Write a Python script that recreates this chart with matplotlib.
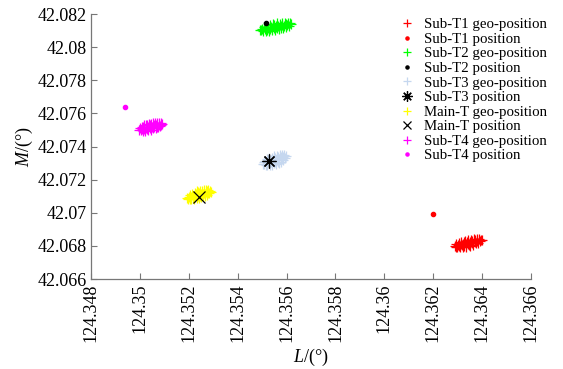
import matplotlib.pyplot as plt

# geo-position samples and reference positions (longitude L, latitude M, degrees)
sub_t1_lon = [124.36287, 124.36292, 124.36294, 124.36298, 124.36300, 124.36304, 124.36306, 124.36310,
              124.36312, 124.36315, 124.36318, 124.36320, 124.36324, 124.36327, 124.36330, 124.36332,
              124.36336, 124.36338, 124.36341, 124.36344, 124.36346, 124.36349, 124.36352, 124.36354,
              124.36357, 124.36360, 124.36363, 124.36366, 124.36369, 124.36372, 124.36375, 124.36378,
              124.36381, 124.36384, 124.36387, 124.36390, 124.36394, 124.36398, 124.36322, 124.36342]
sub_t1_lat = [42.06802, 42.06796, 42.06811, 42.06792, 42.06807, 42.06818, 42.06798, 42.06791,
              42.06814, 42.06825, 42.06806, 42.06792, 42.06822, 42.06800, 42.06831, 42.06814,
              42.06796, 42.06824, 42.06809, 42.06837, 42.06804, 42.06823, 42.06800, 42.06835,
              42.06816, 42.06828, 42.06807, 42.06842, 42.06823, 42.06836, 42.06815, 42.06842,
              42.06829, 42.06820, 42.06840, 42.06827, 42.06838, 42.06833, 42.06812, 42.06819]
sub_t1_pos = (124.36198, 42.06991)

sub_t2_lon = [124.35618, 124.35613, 124.35610, 124.35606, 124.35603, 124.35599, 124.35596, 124.35592,
              124.35590, 124.35586, 124.35583, 124.35580, 124.35576, 124.35572, 124.35569, 124.35567,
              124.35562, 124.35560, 124.35556, 124.35553, 124.35550, 124.35547, 124.35543, 124.35541,
              124.35538, 124.35534, 124.35531, 124.35527, 124.35524, 124.35520, 124.35517, 124.35514,
              124.35510, 124.35507, 124.35503, 124.35500, 124.35495, 124.35491, 124.35578, 124.35555]
sub_t2_lat = [42.08137, 42.08143, 42.08128, 42.08147, 42.08132, 42.08121, 42.08141, 42.08148,
              42.08125, 42.08114, 42.08133, 42.08147, 42.08117, 42.08139, 42.08108, 42.08125,
              42.08143, 42.08115, 42.08130, 42.08102, 42.08135, 42.08116, 42.08139, 42.08104,
              42.08123, 42.08111, 42.08132, 42.08097, 42.08116, 42.08103, 42.08124, 42.08097,
              42.08110, 42.08119, 42.08099, 42.08112, 42.08101, 42.08106, 42.08127, 42.08120]
sub_t2_pos = (124.35515, 42.08144)

sub_t3_lon = [124.35597, 124.35593, 124.35591, 124.35587, 124.35586, 124.35582, 124.35581, 124.35577,
              124.35576, 124.35573, 124.35570, 124.35569, 124.35565, 124.35563, 124.35560, 124.35559,
              124.35555, 124.35553, 124.35551, 124.35548, 124.35547, 124.35544, 124.35541, 124.35540,
              124.35537, 124.35535, 124.35532, 124.35530, 124.35527, 124.35524, 124.35522, 124.35519,
              124.35517, 124.35514, 124.35512, 124.35509, 124.35506, 124.35502, 124.35567, 124.35550]
sub_t3_lat = [42.07341, 42.07330, 42.07348, 42.07319, 42.07338, 42.07349, 42.07322, 42.07309,
              42.07338, 42.07349, 42.07322, 42.07302, 42.07339, 42.07308, 42.07345, 42.07322,
              42.07296, 42.07330, 42.07309, 42.07343, 42.07298, 42.07321, 42.07288, 42.07332,
              42.07305, 42.07318, 42.07288, 42.07332, 42.07305, 42.07319, 42.07289, 42.07322,
              42.07304, 42.07289, 42.07313, 42.07293, 42.07305, 42.07295, 42.07327, 42.07321]
sub_t3_pos = (124.35530, 42.07312)

main_t_lon = [124.35289, 124.35285, 124.35283, 124.35279, 124.35278, 124.35274, 124.35273, 124.35269,
              124.35268, 124.35265, 124.35262, 124.35261, 124.35257, 124.35255, 124.35252, 124.35251,
              124.35247, 124.35245, 124.35243, 124.35240, 124.35239, 124.35236, 124.35233, 124.35232,
              124.35229, 124.35227, 124.35224, 124.35222, 124.35219, 124.35216, 124.35214, 124.35211,
              124.35209, 124.35206, 124.35204, 124.35201, 124.35198, 124.35194, 124.35259, 124.35242]
main_t_lat = [42.07127, 42.07134, 42.07117, 42.07139, 42.07122, 42.07109, 42.07132, 42.07140,
              42.07113, 42.07101, 42.07123, 42.07139, 42.07104, 42.07130, 42.07094, 42.07113,
              42.07134, 42.07102, 42.07119, 42.07087, 42.07125, 42.07103, 42.07130, 42.07089,
              42.07111, 42.07097, 42.07122, 42.07081, 42.07103, 42.07088, 42.07112, 42.07081,
              42.07096, 42.07107, 42.07084, 42.07098, 42.07086, 42.07092, 42.07116, 42.07108]
main_t_pos = (124.35243, 42.07097)

sub_t4_lon = [124.34997, 124.35001, 124.35003, 124.35007, 124.35008, 124.35012, 124.35013, 124.35017,
              124.35018, 124.35021, 124.35024, 124.35025, 124.35029, 124.35031, 124.35034, 124.35035,
              124.35039, 124.35041, 124.35043, 124.35046, 124.35047, 124.35050, 124.35053, 124.35054,
              124.35057, 124.35059, 124.35062, 124.35064, 124.35067, 124.35070, 124.35072, 124.35075,
              124.35077, 124.35080, 124.35082, 124.35085, 124.35088, 124.35092, 124.35027, 124.35044]
sub_t4_lat = [42.07502, 42.07511, 42.07497, 42.07519, 42.07505, 42.07496, 42.07517, 42.07527,
              42.07505, 42.07496, 42.07517, 42.07532, 42.07504, 42.07528, 42.07499, 42.07517,
              42.07537, 42.07511, 42.07527, 42.07501, 42.07535, 42.07518, 42.07543, 42.07509,
              42.07530, 42.07520, 42.07543, 42.07509, 42.07530, 42.07519, 42.07542, 42.07517,
              42.07531, 42.07542, 42.07524, 42.07539, 42.07530, 42.07538, 42.07513, 42.07518]
sub_t4_pos = (124.34938, 42.07639)

x_ticks = [124.348, 124.35, 124.352, 124.354, 124.356, 124.358, 124.36, 124.362, 124.364, 124.366]
x_tick_labels = ['124.348', '124.35', '124.352', '124.354', '124.356', '124.358',
                 '124.36', '124.362', '124.364', '124.366']
y_ticks = [42.066, 42.068, 42.07, 42.072, 42.074, 42.076, 42.078, 42.08, 42.082]
y_tick_labels = ['42.066', '42.068', '42.07', '42.072', '42.074', '42.076', '42.078', '42.08', '42.082']

plt.rcParams['font.family'] = ['Liberation Serif', 'DejaVu Serif']
plt.rcParams['mathtext.fontset'] = 'custom'
plt.rcParams['mathtext.it'] = 'Liberation Serif:italic'
plt.rcParams['mathtext.rm'] = 'Liberation Serif'

fig = plt.figure(figsize=(5.63, 3.69), dpi=100)
ax = fig.add_axes([0.1616, 0.2439, 0.7816, 0.7181])

light_blue = '#c5d7ef'
geo = dict(linestyle='none', marker='+', markersize=7, markeredgewidth=0.9)

ax.plot(sub_t1_lon, sub_t1_lat, color='#ff0000', label='Sub-T1 geo-position', **geo)
ax.plot(*sub_t1_pos, linestyle='none', marker='.', markersize=6, color='#ff0000',
        label='Sub-T1 position')
ax.plot(sub_t2_lon, sub_t2_lat, color='#00ff00', label='Sub-T2 geo-position', **geo)
ax.plot(*sub_t2_pos, linestyle='none', marker='.', markersize=6, color='black',
        label='Sub-T2 position')
ax.plot(sub_t3_lon, sub_t3_lat, color=light_blue, label='Sub-T3 geo-position', **geo)
ax.plot(*sub_t3_pos, linestyle='none', marker=(8, 2, 0), markersize=10, markeredgewidth=0.9,
        color='black', label='Sub-T3 position')
ax.plot(main_t_lon, main_t_lat, color='#ffff00', label='Main-T geo-position', **geo)
ax.plot(*main_t_pos, linestyle='none', marker='x', markersize=8, markeredgewidth=0.9,
        color='black', label='Main-T position')
ax.plot(sub_t4_lon, sub_t4_lat, color='#ff00ff', label='Sub-T4 geo-position', **geo)
ax.plot(*sub_t4_pos, linestyle='none', marker='.', markersize=6, color='#ff00ff',
        label='Sub-T4 position')

ax.set_xlim(124.348, 124.366)
ax.set_ylim(42.066, 42.082)
ax.set_xticks(x_ticks)
ax.set_xticklabels(x_tick_labels, rotation=90, fontsize=13)
ax.set_yticks(y_ticks)
ax.set_yticklabels(y_tick_labels, fontsize=13)
ax.tick_params(direction='in', length=4, width=0.8, color='#777777', pad=3)

for side in ['top', 'right']:
    ax.spines[side].set_visible(False)
for side in ['left', 'bottom']:
    ax.spines[side].set_color('#777777')
    ax.spines[side].set_linewidth(0.9)

ax.set_xlabel(r'$L$/(°)', fontsize=13, labelpad=4)
ax.set_ylabel(r'$M$/(°)', fontsize=13, labelpad=2)

leg = ax.legend(loc='upper left', bbox_to_anchor=(0.698, 0.972), bbox_transform=fig.transFigure,
                frameon=False, fontsize=10.7, labelspacing=0.08, handlelength=0.9,
                handletextpad=0.7, borderpad=0, markerscale=0.75)

fig.savefig('out.png', dpi=100)
